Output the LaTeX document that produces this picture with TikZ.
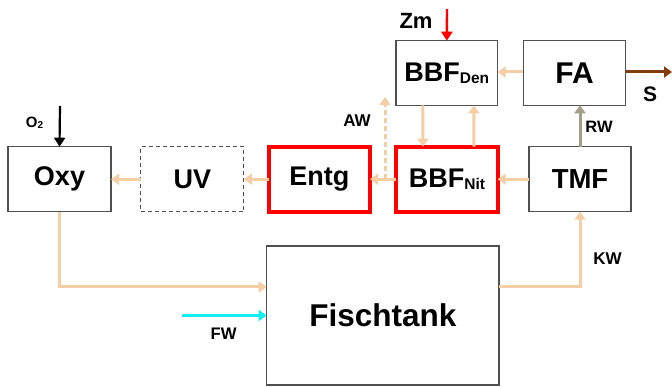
\documentclass[tikz,border=0pt]{standalone}
\usepackage{fontspec}
\setmainfont{Liberation Sans}
\usetikzlibrary{arrows.meta}
\definecolor{tan}{HTML}{F4CFA6}
\definecolor{brownarr}{HTML}{843C0C}
\definecolor{grayarr}{HTML}{A39E8A}
\definecolor{boxline}{HTML}{505050}
\definecolor{aqua}{HTML}{12EEF2}
\newcommand{\fsz}[1]{\fontsize{#1}{#1}\selectfont}
\begin{document}
\begin{tikzpicture}[x=1pt,y=-1pt,
  box/.style={draw=boxline,line width=1.1pt,fill=white,inner sep=0pt,outer sep=0pt,
    minimum width=#1,minimum height=65pt,font=\bfseries},
  redbox/.style={box=#1,draw=red,line width=4pt},
  flow/.style={draw=tan,line width=3pt,-{Triangle[width=11pt,length=8pt]}},
  lbl/.style={font=\bfseries,inner sep=0pt}
  ]
\useasboundingbox (0,0) rectangle (672,387);
% boxes
\node[box=103pt] (oxy) at (59.5,179.2) {\fsz{27}Oxy};
\node[box=103pt,dash pattern=on 4pt off 3pt] (uv) at (192.3,179.2) {\fsz{27}UV};
\node[redbox=101.5pt] (entg) at (319.3,179.2) {\fsz{27}Entg};
\node[redbox=101.4pt] (nit) at (447,179.2) {\fsz{27}BBF\raisebox{-2pt}{\fsz{15.5}Nit}};
\node[box=102pt] (tmf) at (580,179.2) {\fsz{27.5}TMF};
\node[box=101.7pt,minimum height=64.6pt] (den) at (446.8,73) {\fsz{27}BBF\raisebox{-2pt}{\fsz{15.5}Den}};
\node[box=102.4pt,minimum height=64.6pt] (fa) at (574.5,73) {\fsz{30}FA};
\node[box=232.3pt,minimum height=139pt] (tank) at (382.8,315.5) {\fsz{31.5}Fischtank};
% coordinates
\coordinate (zmtop) at (447,9);
\coordinate (o2top) at (60,106);
\coordinate (send) at (672,72);
\coordinate (awbot) at (385,179.2);
\coordinate (awtop) at (385,97);
\coordinate (fwstart) at (182,315.5);
% flows
\draw[flow] (uv.west) -- (oxy.east);
\draw[flow] (entg.west) -- (uv.east);
\draw[flow] (nit.west) -- (entg.east);
\draw[flow] (tmf.west) -- (nit.east);
\draw[flow] ([yshift=1pt]fa.west) -- ([yshift=1pt]den.east);
\draw[flow] ([xshift=-24pt]den.south) -- ([xshift=-24pt]nit.north);
\draw[flow] ([xshift=27pt]nit.north) -- ([xshift=27pt]den.south);
\draw[flow,dash pattern=on 5pt off 3pt] (awbot) -- (awtop);
\draw[flow] (oxy.south) |- ([yshift=28.5pt]tank.west);
\draw[flow] ([yshift=28.5pt]tank.east) -| (tmf.south);
\draw[draw=grayarr,line width=3pt,-{Triangle[width=11pt,length=8pt]}] (tmf.north) -- (fa.south -| tmf.north);
\draw[draw=brownarr,line width=3pt,-{Triangle[width=11pt,length=8pt]}] ([yshift=1pt]fa.east) -- (send);
\draw[draw=red,line width=2.4pt,-{Triangle[width=11pt,length=9pt]}] (zmtop) -- (den.north);
\draw[draw=black,line width=2.2pt,-{Triangle[width=11pt,length=9pt]}] (o2top) -- (oxy.north);
\draw[draw=aqua,line width=3pt,-{Triangle[width=11pt,length=8pt]}] (fwstart) -- (tank.west);
% labels
\node[lbl] (zm) at (416,20.5) {\fsz{22}Zm};
\node[lbl] (o2) at (34.5,123) {\fsz{15}O\raisebox{-1.5pt}{\fsz{10}2}};
\node[lbl] (aw) at (357,121) {\fsz{17}AW};
\node[lbl] (rw) at (599,127) {\fsz{16.5}RW};
\node[lbl] (s) at (650,94) {\fsz{21}S};
\node[lbl] (kw) at (607.5,259) {\fsz{17}KW};
\node[lbl] (fw) at (223.7,334) {\fsz{16.7}FW};
\end{tikzpicture}
\end{document}
